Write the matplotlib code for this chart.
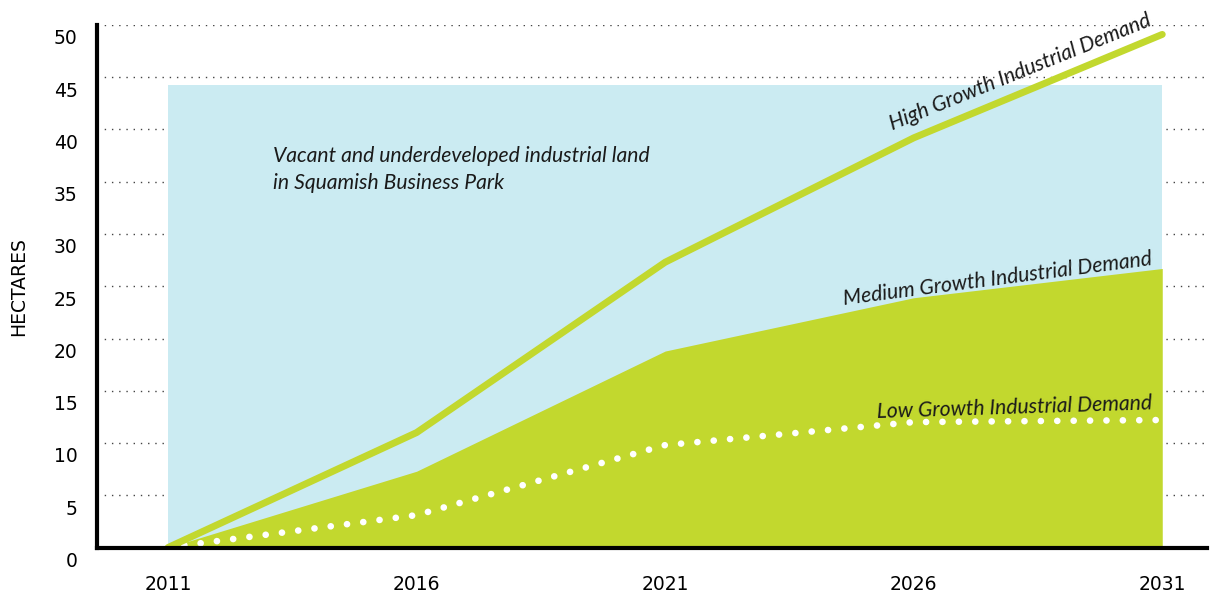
import matplotlib
matplotlib.use('Agg')
import matplotlib.pyplot as plt
from matplotlib.transforms import ScaledTranslation

# data
years = [2011, 2016, 2021, 2026, 2031]
high_growth = [0, 11.0, 27.3, 39.2, 49.1]
medium_growth = [0, 7.3, 18.8, 23.9, 26.7]
low_growth = [0, 3.1, 9.8, 12.0, 12.2]
vacant_land = 44.3
y_ticks = [0, 5, 10, 15, 20, 25, 30, 35, 40, 45, 50]

blue = '#cbebf2'
green = '#c2d82e'

fig = plt.figure(figsize=(12.11, 5.98), dpi=100)
ax = fig.add_axes([97 / 1211, 50.5 / 598, 1110 / 1211, 522.5 / 598])

# vacant land block
ax.fill_between([years[0], years[-1]], 0, vacant_land, color=blue, lw=0, zorder=1)
# medium growth area
ax.fill_between(years, 0, medium_growth, color=green, lw=0, zorder=2)
# low growth dotted line
ax.plot(years, low_growth, color='white', lw=4.8, linestyle=(0, (0.01, 2.45)),
        dash_capstyle='round', zorder=3)
# high growth line
ax.plot(years, high_growth, color=green, lw=5, solid_capstyle='round', zorder=4)

ax.set_xlim(2009.57, 2031.9)
ax.set_ylim(0, 50)
ax.set_xticks(years)
ax.set_yticks(y_ticks)
ax.tick_params(length=0, labelsize=13.5)
ax.tick_params(axis='x', pad=20)
ax.tick_params(axis='y', pad=14)
for lab in ax.get_yticklabels():
    lab.set_transform(lab.get_transform() + ScaledTranslation(0, -0.12, fig.dpi_scale_trans))

# dotted grid
for v in y_ticks[1:]:
    ax.axhline(v, color='#444444', lw=1, linestyle=(0, (1, 4.2)), zorder=0)

for s in ['top', 'right']:
    ax.spines[s].set_visible(False)
ax.spines['left'].set_linewidth(3)
ax.spines['bottom'].set_linewidth(3)
ax.spines['left'].set_zorder(5)
ax.spines['bottom'].set_zorder(5)

ax.set_ylabel('HECTARES', fontsize=13.5)
ax.yaxis.set_label_coords(-0.062, 0.5)

font = dict(family='Lato', style='italic', fontsize=15.2, color='#1a1a1a')
ax.text(2013.11, 38.4, 'Vacant and underdeveloped industrial land\nin Squamish Business Park',
        va='top', ha='left', linespacing=1.4, **font)
ax.text(2030.8, 50.0, 'High Growth Industrial Demand', rotation=22,
        rotation_mode='anchor', ha='right', va='baseline', **font)
ax.text(2030.8, 27.0, 'Medium Growth Industrial Demand', rotation=7.4,
        rotation_mode='anchor', ha='right', va='baseline', **font)
ax.text(2030.8, 13.2, 'Low Growth Industrial Demand', rotation=1.8,
        rotation_mode='anchor', ha='right', va='baseline', **font)

fig.savefig('out.png', dpi=100)
